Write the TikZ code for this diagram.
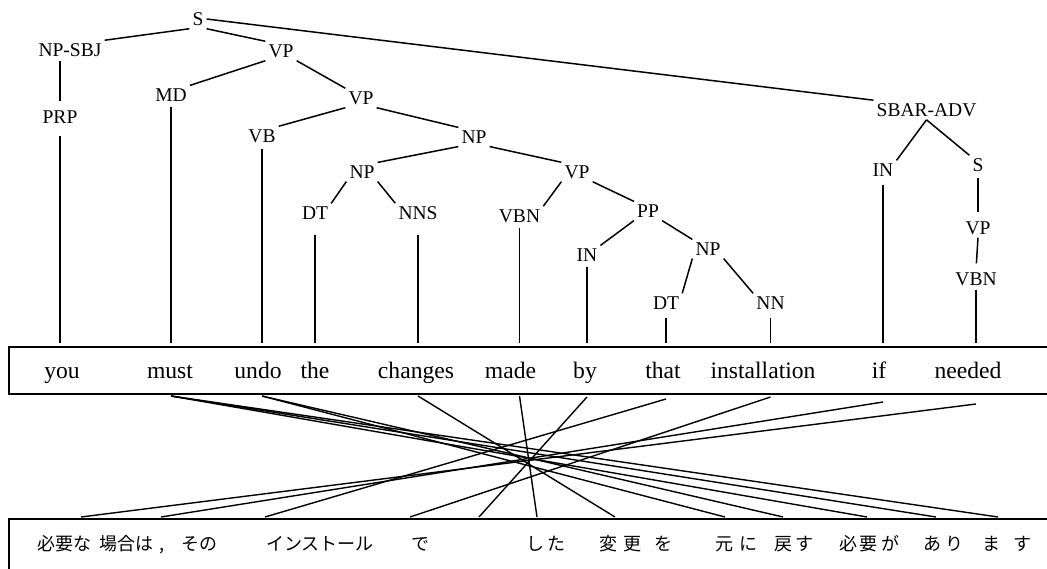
\documentclass[tikz,border=0pt]{standalone}
\usepackage{fontspec}
\setmainfont{Liberation Serif}
\newfontfamily\jpfont{Noto Sans CJK JP}
\usetikzlibrary{calc}
\begin{document}
\begin{tikzpicture}[x=1pt,y=-1pt,
  lab/.style={inner sep=3pt,font=\fontsize{19.5}{20}\selectfont},
  wd/.style={inner sep=0pt,anchor=base,font=\fontsize{23.6}{25}\selectfont},
  jw/.style={inner sep=0pt,anchor=base,font=\jpfont\fontsize{18}{20}\selectfont},
  br/.style={line width=1.5pt},
  lf/.style={line width=1.5pt,shorten >=3pt},
  al/.style={line width=1.4pt},
  frame/.style={draw,line width=2pt,inner sep=0pt,anchor=north west}]
\useasboundingbox (0,0) rectangle (1047,569);
\fill[white] (0,0) rectangle (1047,569);

% boxes
\node[frame,minimum width=1080pt,minimum height=47.3pt] (ebox) at (8,345.7) {};
\node[frame,minimum width=1080pt,minimum height=80pt] (jbox) at (8,518) {};

% tree labels
\node[lab] (S) at (198,19) {S};
\node[lab] (NPSBJ) at (70,50) {NP-SBJ};
\node[lab] (VPa) at (281,51) {VP};
\node[lab] (PRP) at (60,117) {PRP};
\node[lab] (MD) at (171,95) {MD};
\node[lab] (VPb) at (361,98) {VP};
\node[lab] (VB) at (262,136) {VB};
\node[lab] (NPa) at (474,137) {NP};
\node[lab] (NPb) at (362,172) {NP};
\node[lab] (VPc) at (577,172) {VP};
\node[lab] (DTa) at (315,213) {DT};
\node[lab] (NNS) at (418,213) {NNS};
\node[lab] (VBNa) at (519.5,216) {VBN};
\node[lab] (PP) at (648,211) {PP};
\node[lab] (INa) at (587,255) {IN};
\node[lab] (NPc) at (708,249) {NP};
\node[lab] (DTb) at (666,303) {DT};
\node[lab] (NN) at (770.5,303) {NN};
\node[lab] (SBAR) at (926.5,110) {SBAR-ADV};
\node[lab] (INb) at (883,170) {IN};
\node[lab] (Sb) at (978,165) {S};
\node[lab] (VPd) at (978,228) {VP};
\node[lab] (VBNb) at (976,279) {VBN};

% English words
\node[wd] (w1) at (62,378) {you};
\node[wd] (w2) at (170,378) {must};
\node[wd] (w3) at (258,378) {undo};
\node[wd] (w4) at (315,378) {the};
\node[wd] (w5) at (416,378) {changes};
\node[wd] (w6) at (510.5,378) {made};
\node[wd] (w7) at (585,378) {by};
\node[wd] (w8) at (663,378) {that};
\node[wd] (w9) at (763,378) {installation};
\node[wd] (w10) at (879,378) {if};
\node[wd] (w11) at (968,378) {needed};

% Japanese words
\node[jw] (j1) at (64,550) {必要な};
\node[jw] (j2) at (126,550) {場合は};
\node[jw] (j3) at (162,550) {,};
\node[jw] (j4) at (199,550) {その};
\node[jw] (j5) at (320,550) {インストール};
\node[jw] (j6) at (420,550) {で};
\node[jw] (j7) at (546,550) {し\hspace{3pt}た};
\node[jw] (j8) at (620,550) {変\hspace{6pt}更};
\node[jw] (j9) at (663,550) {を};
\node[jw] (j10) at (736.5,550) {元\hspace{6pt}に};
\node[jw] (j11) at (794,550) {戻\hspace{3pt}す};
\node[jw] (j12) at (869,550) {必\hspace{3pt}要\hspace{3pt}が};
\node[jw] (j13) at (943,550) {あ\hspace{4pt}り};
\node[jw] (j14) at (1007,550) {ま\hspace{14pt}す};

% branches
\draw[br] (S.south west) -- (NPSBJ.north east);
\draw[br] (S.south east) -- (VPa.north west);
\draw[br] (S.east) -- (SBAR.north west);
\draw[br,shorten <=1pt,shorten >=6pt] (PRP.north |- NPSBJ.south) -- (PRP.north);
\draw[br] (VPa.south west) -- (MD.north east);
\draw[br] (VPa.south east) -- (VPb.north west);
\draw[br] (VPb.south west) -- (VB.north east);
\draw[br] (VPb.south east) -- (NPa.north west);
\draw[br] (NPa.south west) -- (NPb.north east);
\draw[br] (NPa.south east) -- (VPc.north west);
\draw[br] (NPb.south west) -- (DTa.north east);
\draw[br] (NPb.south east) -- (NNS.north west);
\draw[br] (VPc.south west) -- (VBNa.north east);
\draw[br] (VPc.south east) -- (PP.north west);
\draw[br] (PP.south west) -- (INa.north east);
\draw[br] (PP.south east) -- (NPc.north west);
\draw[br] (NPc.south west) -- (DTb.north east);
\draw[br] (NPc.south east) -- (NN.north west);
\draw[br] (SBAR.south) -- (INb.north east);
\draw[br] (SBAR.south) -- (Sb.north west);
\draw[br,shorten <=3pt,shorten >=6pt] (Sb.south) -- (VPd.north);
\draw[br,shorten >=6pt] (VPd.south) -- (VBNb.north);

% leaves
\draw[lf,shorten <=9pt] (PRP.south) -- (PRP.south |- ebox.north);
\draw[lf,shorten <=2pt] (MD.south) -- (MD.south |- ebox.north);
\draw[lf,shorten <=3pt] (VB.south) -- (VB.south |- ebox.north);
\draw[lf,shorten <=12pt] (DTa.south) -- (DTa.south |- ebox.north);
\draw[lf,shorten <=12pt] (NNS.south) -- (NNS.south |- ebox.north);
\draw[lf,shorten <=2pt] (VBNa.south) -- (VBNa.south |- ebox.north);
\draw[lf,shorten <=2pt] (INa.south) -- (INa.south |- ebox.north);
\draw[lf,shorten <=5pt] (DTb.south) -- (DTb.south |- ebox.north);
\draw[lf,shorten <=5pt] (NN.south) -- (NN.south |- ebox.north);
\draw[lf,shorten <=5pt] (INb.south) -- (INb.south |- ebox.north);
\draw[lf,shorten <=1pt] (VBNb.south) -- (VBNb.south |- ebox.north);

% alignment end points
\coordinate (aMust) at ($(MD |- ebox.south)+(0,1)$);
\coordinate (aUndo) at ($(VB |- ebox.south)+(0,1)$);
\coordinate (aChanges) at ($(NNS |- ebox.south)+(0,1)$);
\coordinate (aMade) at ($(VBNa |- ebox.south)+(0,1)$);
\coordinate (aBy) at ($(INa |- ebox.south)+(0,2)$);
\coordinate (aThat) at ($(DTb |- ebox.south)+(0,4)$);
\coordinate (aInst) at ($(NN |- ebox.south)+(0,2)$);
\coordinate (aIf) at ($(INb |- ebox.south)+(0,7)$);
\coordinate (aNeeded) at ($(VBNb |- ebox.south)+(0,9)$);
\coordinate (bHitsuyona) at (81,517);
\coordinate (bBaai) at (161,517);
\coordinate (bSono) at (265,517);
\coordinate (bInst) at (410,517);
\coordinate (bDe) at (479,517);
\coordinate (bShita) at (537,517);
\coordinate (bHenkou) at (615,517);
\coordinate (bMoto) at (725,517);
\coordinate (bModosu) at (783,517);
\coordinate (bHitsuyoga) at (867,517);
\coordinate (bAri) at (936,517);
\coordinate (bMasu) at (998,517);

% alignments
\draw[al] (aNeeded) -- (bHitsuyona);
\draw[al] (aIf) -- (bBaai);
\draw[al] (aThat) -- (bSono);
\draw[al] (aInst) -- (bInst);
\draw[al] (aBy) -- (bDe);
\draw[al] (aMade) -- (bShita);
\draw[al] (aChanges) -- (bHenkou);
\draw[al] (aUndo) -- (bMoto);
\draw[al] (aUndo) -- (bModosu);
\draw[al] (aMust) -- (bHitsuyoga);
\draw[al] (aMust) -- (bAri);
\draw[al] (aMust) -- (bMasu);
\end{tikzpicture}
\end{document}
